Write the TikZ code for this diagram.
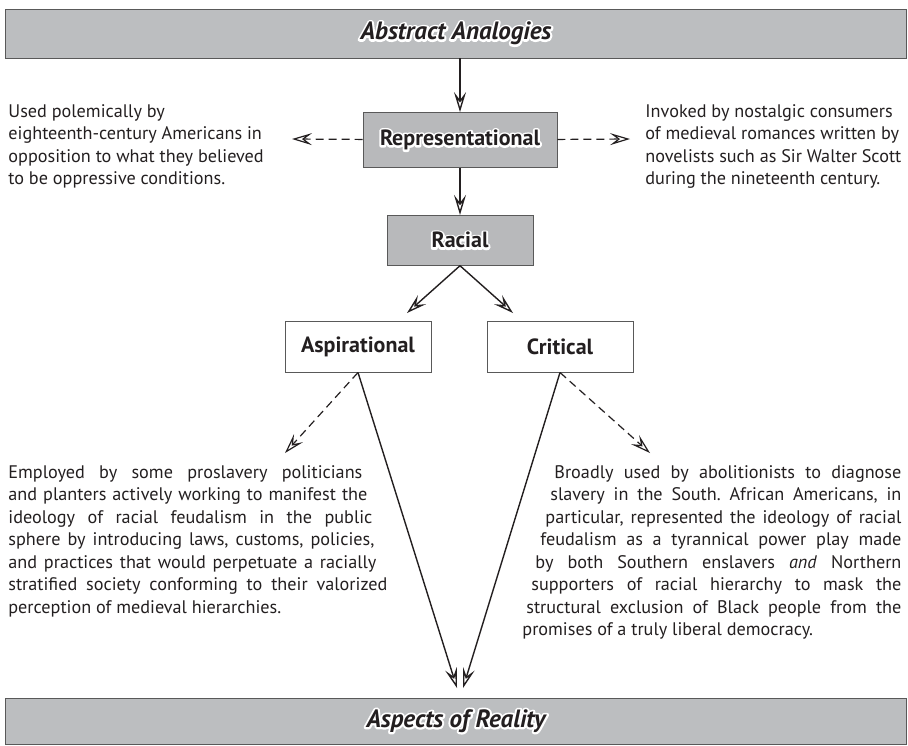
\documentclass[tikz,border=0pt]{standalone}
\usepackage{fontspec}
\setmainfont{PT Sans}
\usetikzlibrary{positioning,arrows.meta}
\definecolor{bargray}{RGB}{188,190,192}
\definecolor{boxgray}{RGB}{184,185,187}
\definecolor{inkgray}{RGB}{35,31,32}
% white rim round a label: a stroked copy under the filled text
\newcommand\halo[1]{\leavevmode\rlap{\special{pdf:literal direct q 1 Tr 2 w 1 j 1 1 1 RG}#1\special{pdf:literal direct Q}}#1}
\tikzstyle{bar} = [draw=black!65, fill=bargray, minimum width=450.5pt, minimum height=24.5pt, font=\fontsize{12.5}{14}\selectfont\bfseries\itshape]
\tikzstyle{greybox} = [draw=black!65, fill=boxgray, font=\fontsize{11}{13}\selectfont\bfseries]
\tikzstyle{whitebox} = [draw=black!65, fill=white, minimum width=73pt, minimum height=25.5pt, font=\fontsize{11}{13}\selectfont\bfseries]
\tikzstyle{note} = [inner sep=0pt, font=\fontsize{9.1}{11.25}\selectfont]
\tikzstyle{link} = [->, line width=0.7pt]
\tikzstyle{hint} = [->, line width=0.6pt, dash pattern=on 4pt off 2.5pt]

\begin{document}
\begin{tikzpicture}[x=0.5pt, y=-0.5pt, node distance=1cm, text=inkgray, draw=inkgray,
		>={Stealth[length=10pt,width=6pt,inset=4pt,open]}]
		\useasboundingbox (0,0) rectangle (908,745);
		\node (abs) [bar] at (456,33.5) {\halo{Abstract Analogies}};
		\node (rep) [greybox, minimum width=97pt, minimum height=27.5pt, below=26.85pt of abs, xshift=2pt] {\halo{Representational}};
		\node (racial) [greybox, minimum width=73pt, minimum height=25pt, below=23.5pt of rep] {\halo{Racial}};
		\node (asp) [whitebox, below=27.5pt of racial, xshift=-51pt] {Aspirational};
		\node (crit) [whitebox, below=27.5pt of racial, xshift=50pt] {Critical};
		\node (real) [bar, minimum height=23pt] at (456,721) {\halo{Aspects of Reality}};

		\node (used) [note, anchor=north west, align=left] at (8,104) {Used polemically by\\eighteenth-century Americans in\\opposition to what they believed\\to be oppressive conditions.};
		\node (invoked) [note, anchor=north west, align=left] at (645,104) {Invoked by nostalgic consumers\\of medieval romances written by\\novelists such as Sir Walter Scott\\during the nineteenth century.};
		\node (employed) [note, anchor=north west] at (8,465) {\begin{minipage}{190pt}\frenchspacing
			\parshape 7 0pt 177pt 0pt 179.5pt 0pt 182pt 0pt 183pt 0pt 184pt 0pt 189.5pt 0pt 190pt
			\noindent Employed by some proslavery politicians\linebreak and planters actively working to manifest the\linebreak ideology of racial feudalism in the public\linebreak sphere by introducing laws, customs, policies,\linebreak and practices that would perpetuate a racially\linebreak stratified society conforming to their valorized\linebreak perception of medieval hierarchies.\end{minipage}};
		\node (broadly) [note, anchor=north west] at (522,465) {\begin{minipage}{189.5pt}\frenchspacing
			\parshape 8 16pt 173.5pt 14pt 175.5pt 11.5pt 178pt 9pt 180.5pt 6.5pt 183pt 4.5pt 185pt 2pt 187.5pt 0pt 189.5pt
			\noindent Broadly used by abolitionists to diagnose\linebreak slavery in the South. African Americans, in\linebreak particular, represented the ideology of racial\linebreak feudalism as a tyrannical power play made\linebreak by both Southern enslavers \textit{and} Northern\linebreak supporters of racial hierarchy to mask the\linebreak structural exclusion of Black people from the\linebreak promises of a truly liberal democracy.\end{minipage}};

		% free ends of the connectors
		\coordinate (usedend) at (292,139);
		\coordinate (invend) at (630,139);
		\coordinate (aspin) at (407,313);
		\coordinate (critin) at (513,313);
		\coordinate (empend) at (285,453);
		\coordinate (broend) at (650,453);
		\coordinate (realL) at (457,688);
		\coordinate (realR) at (463,688);

		\draw [link] (abs.south -| rep) -- (rep);
		\draw [hint] (rep) -- (usedend);
		\draw [hint] (rep) -- (invend);
		\draw [link] (rep) -- (racial);
		\draw [link] (racial.south) -- (aspin);
		\draw [link] (racial.south) -- (critin);
		\draw [hint] (asp.south) -- (empend);
		\draw [link] (asp.south) -- (realL);
		\draw [hint] (crit.south) -- (broend);
		\draw [link] (crit.south) -- (realR);
	\end{tikzpicture}
\end{document}
